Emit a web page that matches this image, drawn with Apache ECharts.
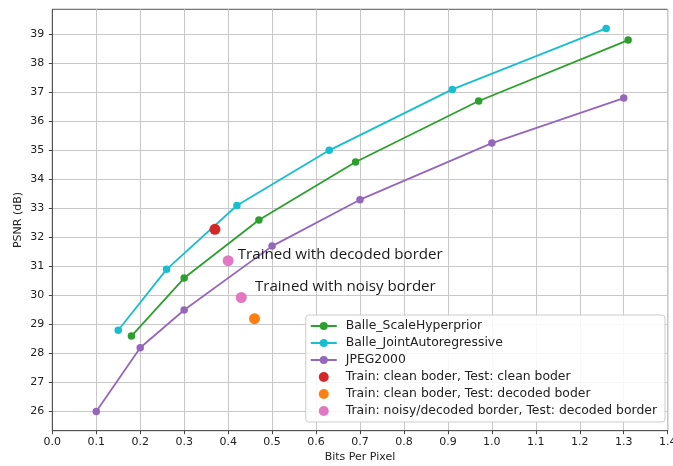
<!DOCTYPE html>
<html>
<head>
<meta charset="utf-8">
<script src="https://cdn.jsdelivr.net/npm/echarts@6/dist/echarts.min.js"></script>
<style>
html,body{margin:0;padding:0;background:#fff;}
#chart{width:673px;height:466px;}
</style>
</head>
<body>
<div id="chart"></div>
<script>
// ---- data ----
const scaleHyperX = [0.18, 0.30, 0.47, 0.69, 0.97, 1.31];
const scaleHyperY = [28.6, 30.6, 32.6, 34.6, 36.7, 38.8];
const jointAutoX = [0.15, 0.26, 0.42, 0.63, 0.91, 1.26];
const jointAutoY = [28.8, 30.9, 33.1, 35.0, 37.1, 39.2];
const jpegX = [0.10, 0.20, 0.30, 0.50, 0.70, 1.00, 1.30];
const jpegY = [26.0, 28.2, 29.5, 31.7, 33.3, 35.25, 36.8];
const cleanCleanX = [0.37];
const cleanCleanY = [32.28];
const cleanDecodedX = [0.46];
const cleanDecodedY = [29.2];
const noisyDecodedX = [0.40, 0.43];
const noisyDecodedY = [31.2, 29.93];
const annotationText = ['Trained with decoded border', 'Trained with noisy border'];
const annotationX = [0.422, 0.461];
const annotationY = [31.39, 30.29];
const seriesNames = ['Balle_ScaleHyperprior', 'Balle_JointAutoregressive', 'JPEG2000',
  'Train: clean boder, Test: clean boder', 'Train: clean boder, Test: decoded boder',
  'Train: noisy/decoded border, Test: decoded border'];
const yTicks = [26, 27, 28, 29, 30, 31, 32, 33, 34, 35, 36, 37, 38, 39];

const zip = (xs, ys) => xs.map((x, i) => [x, ys[i]]);
const font = 'DejaVu Sans';

function lineSeries(name, xs, ys, color) {
  return {
    name, type: 'line', data: zip(xs, ys), color,
    symbol: 'circle', symbolSize: 7.5, showSymbol: true,
    lineStyle: { width: 1.8, color }, itemStyle: { color },
    animation: false, z: 3
  };
}
function scatterSeries(name, xs, ys, color) {
  return {
    name, type: 'scatter', data: zip(xs, ys), color,
    symbol: 'circle', symbolSize: 11, itemStyle: { color, opacity: 1 },
    animation: false, z: 4
  };
}

const chart = echarts.init(document.getElementById('chart'), null, { renderer: 'canvas' });
chart.setOption({
  backgroundColor: '#fff',
  animation: false,
  grid: { left: 52.3, right: 5.3, top: 9.3, bottom: 35.3, show: true, borderColor: '#555', borderWidth: 1,
    containLabel: false, outerBoundsMode: 'none' },
  xAxis: {
    type: 'value', min: 0, max: 1.4, interval: 0.1,
    name: 'Bits Per Pixel', nameLocation: 'middle', nameGap: 20.5, nameMoveOverlap: false,
    nameTextStyle: { fontFamily: font, fontSize: 11, color: '#222' },
    axisLine: { show: true, onZero: false, lineStyle: { color: '#555', width: 1 } },
    axisTick: { show: true, inside: false, length: 3.5, lineStyle: { color: '#444' } },
    axisLabel: { fontFamily: font, fontSize: 11, color: '#222', margin: 6, formatter: v => v.toFixed(1) },
    splitLine: { show: true, lineStyle: { color: '#c8c8c8', width: 1 } }
  },
  yAxis: {
    type: 'value', min: 25.34, max: 39.86,
    name: 'PSNR (dB)', nameLocation: 'middle', nameGap: 29, nameMoveOverlap: false,
    nameTextStyle: { fontFamily: font, fontSize: 11, color: '#222' },
    axisLine: { show: true, onZero: false, lineStyle: { color: '#555', width: 1 } },
    axisTick: { show: true, inside: false, length: 3.5, lineStyle: { color: '#444' }, customValues: yTicks },
    axisLabel: { fontFamily: font, fontSize: 11, color: '#222', margin: 8, customValues: yTicks },
    splitLine: { show: true, lineStyle: { color: '#c8c8c8', width: 1 } }
  },
  legend: {
    data: seriesNames,
    orient: 'vertical', right: 8, top: 315,
    padding: [4, 8, 4, 4],
    itemGap: 3, itemWidth: 26, itemHeight: 10,
    backgroundColor: 'rgba(255,255,255,0.85)', borderColor: '#ccc', borderWidth: 1, borderRadius: 3,
    textStyle: { fontFamily: font, fontSize: 12.4, lineHeight: 14, color: '#222', padding: [0, 0, 0, 4] }
  },
  series: [
    lineSeries(seriesNames[0], scaleHyperX, scaleHyperY, '#2ca02c'),
    lineSeries(seriesNames[1], jointAutoX, jointAutoY, '#17becf'),
    lineSeries(seriesNames[2], jpegX, jpegY, '#9467bd'),
    scatterSeries(seriesNames[3], cleanCleanX, cleanCleanY, '#d62728'),
    scatterSeries(seriesNames[4], cleanDecodedX, cleanDecodedY, '#ff7f0e'),
    scatterSeries(seriesNames[5], noisyDecodedX, noisyDecodedY, '#e377c2'),
    {
      name: 'annotations', type: 'scatter', silent: true, symbolSize: 0,
      itemStyle: { opacity: 1 },
      data: annotationText.map((t, i) => ({ name: t, value: [annotationX[i], annotationY[i]] })),
      label: { show: true, position: 'right', distance: 0, formatter: p => p.name,
        fontFamily: 'Open Sans', fontSize: 15.1, color: '#1a1a1a', opacity: 1 },
      z: 5, animation: false
    }
  ]
});
</script>
</body>
</html>
